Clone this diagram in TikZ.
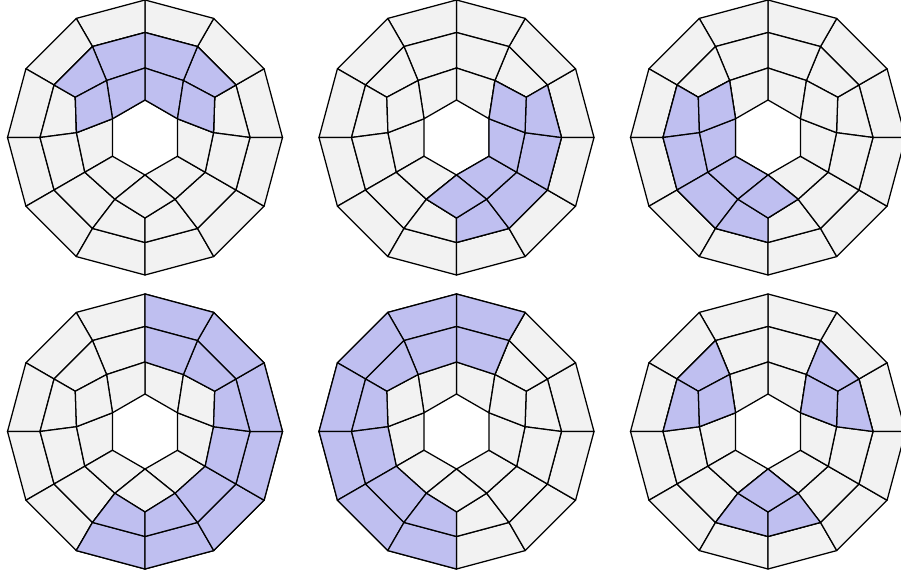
\documentclass[tikz,border=0pt]{standalone}
\usepackage{tikz}
\usepackage{xcolor}
\definecolor{rim}{HTML}{000000}
\definecolor{cellgray}{HTML}{F2F2F2}
\definecolor{lilac}{HTML}{BFBFF0}

\begin{document}
\begin{tikzpicture}[x=0.25mm,y=0.25mm,
  cell/.style={fill=cellgray,draw=rim,line width=0.9pt,line join=round},
  hot/.style={cell,fill=lilac}]
\useasboundingbox (0,0) rectangle (901,576);
\clip (0,0) rectangle (901,576);
% six copies of the same ring, row by row
\foreach \d/\cx/\cy in {1/145/438.5,2/456.5/438.5,3/768/438.5,
                        4/145/144.5,5/456.5/144.5,6/768/144.5}{
  \begin{scope}[shift={(\cx,\cy)}]
    \foreach \k in {0,...,11}{
      \pgfmathsetmacro\tw{{4,0,-4,0}[mod(\k,4)]}
      \pgfmathsetmacro\ru{{68.7,80.5,68.7,69.5}[mod(\k,4)]}
      \pgfmathsetmacro\hw{{1,0,-1,0}[mod(\k,4)]}
      \coordinate (t\d-o\k) at (30*\k:137.5);
      \coordinate (t\d-a\k) at (30*\k:105);
      \coordinate (t\d-u\k) at ({30*\k+\tw}:\ru);
      \coordinate (t\d-w\k) at ({30*(\k+\hw)}:37.5);
    }
  \end{scope}
  \foreach \k in {0,...,11}{
    \pgfmathtruncatemacro\kk{mod(\k+1,12)}
    \filldraw[cell] (t\d-o\k) -- (t\d-o\kk) -- (t\d-a\kk) -- (t\d-a\k) -- cycle;
    \filldraw[cell] (t\d-a\k) -- (t\d-a\kk) -- (t\d-u\kk) -- (t\d-u\k) -- cycle;
  }
  \foreach \k in {2,3,6,7,10,11}{
    \pgfmathtruncatemacro\kk{mod(\k+1,12)}
    \filldraw[cell] (t\d-u\k) -- (t\d-u\kk) -- (t\d-w\kk) -- (t\d-w\k) -- cycle;
  }
  \foreach \k in {1,5,9}{
    \filldraw[cell] (t\d-u\the\numexpr\k-1\relax) -- (t\d-u\k)
      -- (t\d-u\the\numexpr\k+1\relax) -- (t\d-w\the\numexpr\k+1\relax) -- cycle;
  }
}
% shaded cells, given as copy/cell
\foreach \d/\k in {4/8,4/9,4/10,4/11,4/0,4/1,4/2,
                   5/2,5/3,5/4,5/5,5/6,5/7,5/8}{
  \pgfmathtruncatemacro\kk{mod(\k+1,12)}
  \filldraw[hot] (t\d-o\k) -- (t\d-o\kk) -- (t\d-a\kk) -- (t\d-a\k) -- cycle;
}
\foreach \d/\k in {1/1,1/2,1/3,1/4, 2/9,2/10,2/11,2/0, 3/5,3/6,3/7,3/8,
                   4/8,4/9,4/10,4/11,4/0,4/1,4/2, 5/2,5/3,5/4,5/5,5/6,5/7,5/8,
                   6/0,6/1,6/4,6/5,6/8,6/9}{
  \pgfmathtruncatemacro\kk{mod(\k+1,12)}
  \filldraw[hot] (t\d-a\k) -- (t\d-a\kk) -- (t\d-u\kk) -- (t\d-u\k) -- cycle;
}
\foreach \d/\k in {1/2,1/3,2/10,2/11,3/6,3/7}{
  \pgfmathtruncatemacro\kk{mod(\k+1,12)}
  \filldraw[hot] (t\d-u\k) -- (t\d-u\kk) -- (t\d-w\kk) -- (t\d-w\k) -- cycle;
}
\foreach \d/\k in {1/1,1/5,2/1,2/9,3/5,3/9,6/1,6/5,6/9}{
  \filldraw[hot] (t\d-u\the\numexpr\k-1\relax) -- (t\d-u\k)
    -- (t\d-u\the\numexpr\k+1\relax) -- (t\d-w\the\numexpr\k+1\relax) -- cycle;
}
\end{tikzpicture}
\end{document}
